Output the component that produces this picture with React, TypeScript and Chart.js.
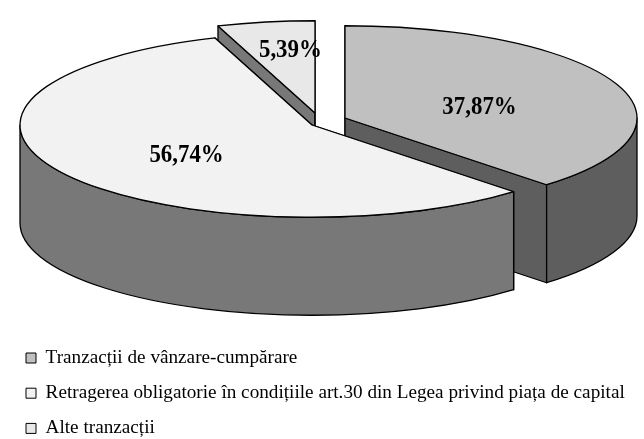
import React, { useEffect, useRef } from "react";
import { Chart, registerables } from "chart.js";

Chart.register(...registerables);

const categories = [
  "Tranzacții de vânzare-cumpărare",
  "Retragerea obligatorie în condițiile art.30 din Legea privind piața de capital",
  "Alte tranzacții",
];
const shares = [37.87, 56.74, 5.39];

const topColors = ["#c0c0c0", "#f2f2f2", "#e8e8e8"];
const wallColors = ["#5e5e5e", "#787878", "#787878"];
const drawOrder = [2, 0, 1];
const sliceApex = [
  [345, 118],
  [312, 125],
  [315, 113],
];
const labelShift = [
  [-1, 6],
  [-1, 6],
  [0, -17],
];

const RADIUS = 292;
const SQUASH = 0.316;
const DEPTH = 98;
const FONT = '"Liberation Serif", serif';
const LABEL_CONDENSE = 0.88;
const LEGEND_DROP = 15;

const pie3d = {
  id: "pie3d",
  afterLayout(chart: any) {
    chart.legend.bottom += LEGEND_DROP;
  },
  beforeDatasetsDraw(chart: any) {
    const ctx = chart.ctx;
    const arcs = chart.getDatasetMeta(0).data;
    const rx = arcs[0].outerRadius;
    const ry = rx * SQUASH;
    ctx.save();
    ctx.lineWidth = 1.3;
    ctx.strokeStyle = "#000";
    ctx.lineJoin = "round";

    for (const i of drawOrder) {
      const arc = arcs[i];
      const [cx, cy] = sliceApex[i];
      const a0 = arc.startAngle;
      const a1 = arc.endAngle;
      const px = (a: number) => cx + rx * Math.cos(a);
      const py = (a: number) => cy + ry * Math.sin(a);

      // cut faces
      for (const a of [a0, a1]) {
        ctx.beginPath();
        ctx.moveTo(cx, cy);
        ctx.lineTo(px(a), py(a));
        ctx.lineTo(px(a), py(a) + DEPTH);
        ctx.lineTo(cx, cy + DEPTH);
        ctx.closePath();
        ctx.fillStyle = wallColors[i];
        ctx.fill();
        ctx.stroke();
      }

      // outer face: only the part that looks towards the viewer
      const from = Math.max(a0, 0);
      const to = Math.min(a1, Math.PI);
      if (to > from) {
        ctx.beginPath();
        ctx.ellipse(cx, cy, rx, ry, 0, from, to);
        ctx.lineTo(px(to), py(to) + DEPTH);
        ctx.ellipse(cx, cy + DEPTH, rx, ry, 0, to, from, true);
        ctx.closePath();
        ctx.fillStyle = wallColors[i];
        ctx.fill();
        ctx.stroke();
      }

      // top face, drawn by the library's own arc element
      ctx.save();
      ctx.translate(cx, cy);
      ctx.scale(1, SQUASH);
      ctx.translate(-arc.x, -arc.y);
      arc.draw(ctx, chart.chartArea);
      ctx.restore();

      // outline with an even line width
      ctx.beginPath();
      ctx.moveTo(cx, cy);
      ctx.lineTo(px(a0), py(a0));
      ctx.ellipse(cx, cy, rx, ry, 0, a0, a1);
      ctx.closePath();
      ctx.stroke();
    }

    // value labels
    ctx.fillStyle = "#000";
    ctx.font = `bold 26px ${FONT}`;
    ctx.textAlign = "center";
    ctx.textBaseline = "middle";
    shares.forEach((value, i) => {
      const arc = arcs[i];
      const mid = (arc.startAngle + arc.endAngle) / 2;
      const [cx, cy] = sliceApex[i];
      const x = cx + 0.5 * rx * Math.cos(mid) + labelShift[i][0];
      const y = cy + 0.5 * ry * Math.sin(mid) + labelShift[i][1];
      ctx.save();
      ctx.translate(x, y);
      ctx.scale(LABEL_CONDENSE, 1);
      ctx.fillText(`${value.toFixed(2).replace(".", ",")}%`, 0, 0);
      ctx.restore();
    });
    ctx.restore();
    return false;
  },
};

export default function App() {
  const ref = useRef<HTMLCanvasElement>(null);
  useEffect(() => {
    const chart = new Chart(ref.current as HTMLCanvasElement, {
      type: "pie",
      data: {
        labels: categories,
        datasets: [
          {
            data: shares,
            backgroundColor: topColors,
            borderWidth: 0,
            radius: RADIUS,
          } as any,
        ],
      },
      options: {
        animation: false,
        responsive: false,
        layout: { padding: { left: 10 } },
        plugins: {
          tooltip: { enabled: false },
          legend: {
            position: "chartArea" as any,
            align: "end",
            labels: {
              boxWidth: 10,
              boxHeight: 10,
              padding: 16,
              color: "#000",
              font: { family: FONT, size: 19.2 },
              generateLabels: (c: any) =>
                (Chart as any).overrides.doughnut.plugins.legend.labels
                  .generateLabels(c)
                  .map((item: any) => ({ ...item, strokeStyle: "#000", lineWidth: 1, lineJoin: "miter" })),
            },
          },
        },
      },
      plugins: [pie3d],
    } as any);
    return () => chart.destroy();
  }, []);
  return (
    <div style={{ position: "fixed", left: 0, top: 0, width: 644, height: 439, background: "#fff" }}>
      <canvas ref={ref} width={644} height={439} style={{ display: "block" }} />
    </div>
  );
}
